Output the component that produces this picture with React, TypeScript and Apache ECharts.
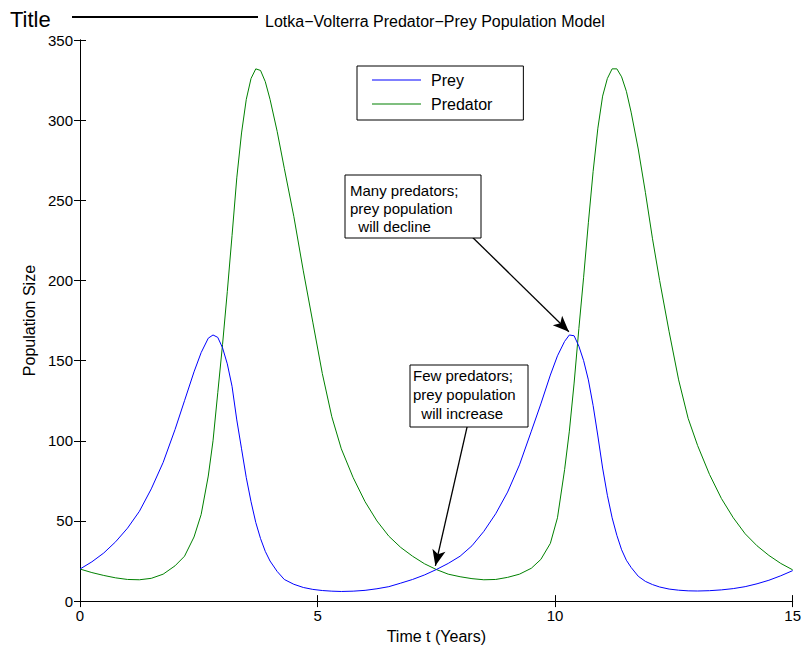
import React, { useEffect, useRef } from "react";
import * as echarts from "echarts";

// Time samples (years)
const time = [
  0, 0.25, 0.5, 0.75, 1.0, 1.25, 1.5, 1.75, 2.0, 2.2, 2.4, 2.55, 2.7, 2.8, 2.9, 3.0,
  3.1, 3.2, 3.3, 3.4, 3.5, 3.6, 3.7, 3.8, 3.9, 4.0, 4.15, 4.3, 4.5, 4.7, 4.9, 5.1,
  5.3, 5.5, 5.75, 6.0, 6.25, 6.5, 6.75, 7.0, 7.25, 7.5, 7.75, 8.0, 8.25, 8.5, 8.75,
  9.0, 9.25, 9.5, 9.7, 9.9, 10.05, 10.2, 10.3, 10.4, 10.5, 10.6, 10.7, 10.8, 10.9,
  11.0, 11.1, 11.2, 11.3, 11.4, 11.5, 11.6, 11.75, 11.9, 12.05, 12.2, 12.4, 12.6,
  12.8, 13.0, 13.25, 13.5, 13.75, 14.0, 14.25, 14.5, 14.75, 15.0,
];

const prey = [
  20, 24.5, 30, 37, 45.5, 56, 70, 86.5, 107, 125, 143, 155, 164, 166, 164.5, 158,
  148, 134, 113, 95, 77, 62, 49, 39, 31, 25, 18.5, 13.5, 10.5, 8.5, 7.3, 6.6,
  6.2, 6.0, 6.2, 6.7, 7.7, 9.0, 11.2, 13.5, 16.3, 19.7, 23.5, 28, 34.5, 43.5, 54.5,
  68, 85, 106, 123, 141, 153, 162, 166, 165.5, 159, 150, 138, 122, 103,
  83, 66, 52, 41, 32, 25.5, 21, 15.5, 12.3, 10.3, 8.8, 7.5, 6.8,
  6.4, 6.3, 6.5, 7.0, 7.8, 9.0, 10.8, 13, 15.8, 19,
];

const predator = [
  20, 17.8, 16, 14.5, 13.5, 13.3, 14.2, 16.8, 22, 28, 40, 54, 78, 100, 130, 160,
  193, 228, 264, 292, 313, 326, 332, 331, 324, 313, 293, 270, 240, 206, 174, 142,
  115, 95, 77, 62, 50, 40.5, 33.5, 28, 23.3, 19.7, 16.8, 15.2, 14, 13.3, 13.5,
  14.8, 16.8, 20.5, 26, 36, 52, 82, 106, 136, 170, 202, 236, 268, 295,
  315, 326, 332, 332, 327, 318, 305, 282, 255, 226, 200, 168, 138,
  114, 97, 79, 64, 52, 42, 34.5, 28.5, 23.5, 19.5,
];

const xTicks = { min: 0, max: 15, interval: 5 };
const yTicks = { min: 0, max: 350, interval: 50 };

const seriesNames = ["Prey", "Predator"];
const titleText = "Lotka\u2212Volterra Predator\u2212Prey Population Model";

// Annotation arrows: [start(t, value), end(t, value)]
const arrowDecline = [[8.26, 227], [10.29, 168]];
const arrowIncrease = [[8.15, 109], [7.48, 22]];
const noteDecline = ["Many predators;", "prey population", "  will decline"];
const noteIncrease = ["Few predators;", "prey population", "  will increase"];

const FONT = "'Liberation Sans', Arial, Helvetica, sans-serif";

export default function App() {
  const ref = useRef<HTMLDivElement>(null);

  useEffect(() => {
    if (!ref.current) return;
    const chart = echarts.init(ref.current, undefined, { renderer: "svg" });

    const preyData = time.map((t, i) => [t, prey[i]]);
    const predData = time.map((t, i) => [t, predator[i]]);

    const axisCommon = {
      axisLine: { show: true, lineStyle: { color: "#000", width: 1 } },
      axisTick: { show: true, inside: true, length: 6, lineStyle: { color: "#000" } },
      splitLine: { show: false },
    };

    const arrowLine = (a: number[][]) => [
      { coord: a[0], symbol: "none" },
      { coord: a[1], symbol: "arrow", symbolSize: [10, 16] },
    ];

    const option: any = {
      animation: false,
      backgroundColor: "#fff",
      textStyle: { fontFamily: FONT },
      title: [
        {
          text: "Title",
          left: 10,
          top: 8,
          padding: 0,
          textStyle: { fontFamily: FONT, fontSize: 22, fontWeight: "normal", color: "#000" },
        },
        {
          text: titleText,
          left: 265,
          top: 13,
          padding: 0,
          textStyle: { fontFamily: FONT, fontSize: 16, fontWeight: "normal", color: "#000" },
        },
      ],
      legend: {
        data: seriesNames,
        orient: "vertical",
        left: 357,
        top: 66,
        padding: [6, 31, 8, 15],
        itemGap: 8,
        itemWidth: 49,
        itemHeight: 1,
        icon: "rect",
        borderColor: "#000",
        borderWidth: 1,
        backgroundColor: "#fff",
        selectedMode: false,
        textStyle: { fontFamily: FONT, fontSize: 16, color: "#000", lineHeight: 16, padding: [0, 0, 0, 5] },
      },
      grid: { left: 80, right: 10, top: 40, bottom: 46, containLabel: false },
      xAxis: [
        {
          type: "value",
          ...xTicks,
          position: "bottom",
          name: "Time t (Years)",
          nameLocation: "middle",
          nameGap: 23,
          nameTextStyle: { fontFamily: FONT, fontSize: 16, color: "#000" },
          axisLabel: { show: true, color: "#000", fontFamily: FONT, fontSize: 15, margin: 7 },
          ...axisCommon,
        },
        {
          type: "value",
          ...xTicks,
          position: "top",
          axisLabel: { show: false },
          ...axisCommon,
        },
      ],
      yAxis: [
        {
          type: "value",
          ...yTicks,
          position: "left",
          name: "Population Size",
          nameLocation: "middle",
          nameGap: 38,
          nameTextStyle: { fontFamily: FONT, fontSize: 16, color: "#000" },
          axisLabel: { show: true, color: "#000", fontFamily: FONT, fontSize: 15, margin: 7 },
          ...axisCommon,
        },
        {
          type: "value",
          ...yTicks,
          position: "right",
          axisLabel: { show: false },
          ...axisCommon,
        },
      ],
      series: [
        {
          name: seriesNames[0],
          type: "line",
          data: preyData,
          symbol: "none",
          lineStyle: { color: "#0000ff", width: 1 },
          itemStyle: { color: "#0000ff" },
          z: 3,
          markLine: {
            silent: true,
            animation: false,
            label: { show: false },
            lineStyle: { color: "#000", width: 1.3, type: "solid" },
            itemStyle: { color: "#000" },
            data: [arrowLine(arrowDecline), arrowLine(arrowIncrease)],
          },
        },
        {
          name: seriesNames[1],
          type: "line",
          data: predData,
          symbol: "none",
          lineStyle: { color: "#008000", width: 1 },
          itemStyle: { color: "#008000" },
          z: 2,
        },
      ],
      graphic: [
        {
          type: "line",
          shape: { x1: 72, y1: 17, x2: 258, y2: 17 },
          style: { stroke: "#000", lineWidth: 2 },
        },
        {
          type: "rect",
          shape: { x: 345, y: 175, width: 136, height: 63 },
          style: { fill: "#fff", stroke: "#000", lineWidth: 1 },
          z: 10,
        },
        {
          type: "text",
          x: 350,
          y: 181,
          z: 11,
          style: {
            text: noteDecline.join("\n"),
            fill: "#000",
            font: `15px ${FONT}`,
            lineHeight: 18,
            align: "left",
            verticalAlign: "top",
          },
        },
        {
          type: "rect",
          shape: { x: 410, y: 365, width: 118, height: 62 },
          style: { fill: "#fff", stroke: "#000", lineWidth: 1 },
          z: 10,
        },
        {
          type: "text",
          x: 413,
          y: 366,
          z: 11,
          style: {
            text: noteIncrease.join("\n"),
            fill: "#000",
            font: `15px ${FONT}`,
            lineHeight: 19,
            align: "left",
            verticalAlign: "top",
          },
        },
      ],
    };

    chart.setOption(option);
    return () => chart.dispose();
  }, []);

  return (
    <div
      ref={ref}
      style={{ position: "fixed", left: 0, top: 0, width: 804, height: 649, background: "#fff" }}
    />
  );
}
